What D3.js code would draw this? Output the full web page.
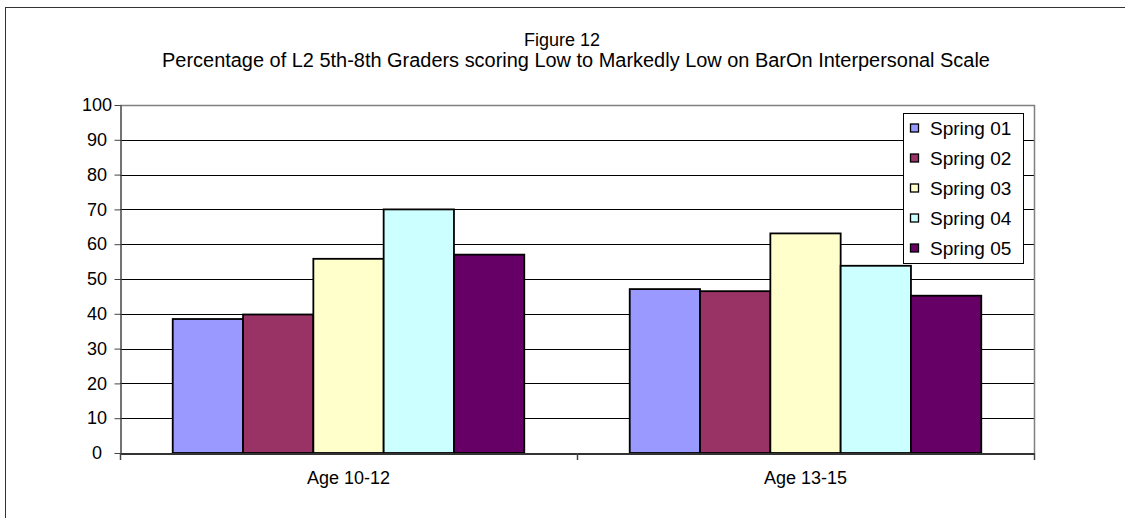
<!DOCTYPE html>
<html>
<head>
<meta charset="utf-8">
<script src="https://cdn.jsdelivr.net/npm/d3@7"></script>
<style>
  html, body { margin: 0; padding: 0; background: #fff; }
  svg { display: block; }
  text { font-family: Arial, "Liberation Sans", sans-serif; fill: #000; }
</style>
</head>
<body>
<svg id="chart" width="1125" height="518"></svg>
<script>
const categories = ["Age 10-12", "Age 13-15"];
const seriesNames = ["Spring 01", "Spring 02", "Spring 03", "Spring 04", "Spring 05"];
const seriesColors = ["#9999FF", "#993366", "#FFFFCC", "#CCFFFF", "#660066"];
const spring01 = [38.5, 47.1];
const spring02 = [39.8, 46.5];
const spring03 = [55.8, 63.1];
const spring04 = [70.0, 53.8];
const spring05 = [57.0, 45.2];
const yTicks = [0, 10, 20, 30, 40, 50, 60, 70, 80, 90, 100];
const titleLine1 = "Figure 12";
const titleLine2 = "Percentage of L2 5th-8th Graders scoring Low to Markedly Low on BarOn Interpersonal Scale";

const seriesValues = [spring01, spring02, spring03, spring04, spring05];

const svg = d3.select("#chart");
const plot = { left: 120, right: 1034, top: 105, bottom: 453 };

// outer chart border
svg.append("rect")
  .attr("x", 5.5).attr("y", 7.5)
  .attr("width", 1140).attr("height", 540)
  .attr("fill", "#fff").attr("stroke", "#333").attr("stroke-width", 1);

const y = d3.scaleLinear().domain([0, 100]).range([plot.bottom, plot.top]);
const x0 = d3.scaleBand().domain(categories).range([plot.left, plot.right]).padding(0);
const x1 = d3.scaleBand().domain(seriesNames).range([0, x0.bandwidth()])
  .paddingInner(0).paddingOuter(0.75);

// gridlines
svg.append("g").selectAll("line")
  .data(yTicks.filter(d => d > 0 && d < 100))
  .join("line")
  .attr("x1", plot.left).attr("x2", plot.right)
  .attr("y1", d => Math.round(y(d)) + 0.5).attr("y2", d => Math.round(y(d)) + 0.5)
  .attr("stroke", "#000").attr("stroke-width", 1);

// plot border top and right (gray)
svg.append("path")
  .attr("d", `M${plot.left},${Math.round(y(100)) + 0.5}H${plot.right + 0.5}V${plot.bottom}`)
  .attr("fill", "none").attr("stroke", "#808080").attr("stroke-width", 1.5);

// bars
const groups = svg.append("g").selectAll("g")
  .data(categories)
  .join("g")
  .attr("transform", d => `translate(${x0(d)},0)`);

groups.selectAll("rect")
  .data((c, ci) => seriesNames.map((s, si) => ({ s, si, v: seriesValues[si][ci] })))
  .join("rect")
  .attr("x", d => x1(d.s))
  .attr("width", x1.bandwidth())
  .attr("y", d => y(d.v))
  .attr("height", d => y(0) - y(d.v))
  .attr("fill", d => seriesColors[d.si])
  .attr("stroke", "#000").attr("stroke-width", 1.8);

// y axis
const yAxis = d3.axisLeft(y).tickValues(yTicks).tickSize(6).tickPadding(11).tickSizeOuter(0);
const yg = svg.append("g").attr("transform", `translate(${plot.left + 0.5},0)`).call(yAxis);
yg.select(".domain").attr("stroke", "#444").attr("stroke-width", 1.5);
yg.selectAll(".tick line").attr("stroke", "#444");
yg.selectAll(".tick text").attr("font-size", 18).attr("fill", "#000")
  .attr("text-anchor", "middle").attr("x", -23.5)
  .style("font-family", 'Arial, "Liberation Sans", sans-serif');

// x axis
const xAxis = d3.axisBottom(x0).tickSize(0).tickPadding(18).tickSizeOuter(0);
const xg = svg.append("g").attr("transform", `translate(0,${plot.bottom + 0.5})`).call(xAxis);
xg.select(".domain").attr("stroke", "#333").attr("stroke-width", 2);
xg.selectAll(".tick text").attr("font-size", 18).attr("fill", "#000")
  .style("font-family", 'Arial, "Liberation Sans", sans-serif');
// category boundary ticks
const bounds = categories.map(c => x0(c)).concat([x0(categories[categories.length - 1]) + x0.bandwidth()]);
svg.append("g").selectAll("line").data(bounds).join("line")
  .attr("x1", d => Math.round(d) + 0.5).attr("x2", d => Math.round(d) + 0.5)
  .attr("y1", plot.bottom).attr("y2", plot.bottom + 7)
  .attr("stroke", "#444").attr("stroke-width", 1.5);

// titles
svg.append("text").attr("x", 562).attr("y", 46).attr("text-anchor", "middle")
  .attr("font-size", 18).text(titleLine1);
const t2 = svg.append("text").attr("x", 576).attr("y", 67).attr("text-anchor", "middle")
  .attr("font-size", 17).text(titleLine2);
const w2 = t2.node().getComputedTextLength();
t2.attr("font-size", 17 * 828 / w2);

// legend
const legend = svg.append("g");
legend.append("rect").attr("x", 903.5).attr("y", 113.5).attr("width", 120).attr("height", 150)
  .attr("fill", "#fff").attr("stroke", "#000").attr("stroke-width", 1);
const rowY = d3.scalePoint().domain(seriesNames).range([128, 248]);
const items = legend.selectAll("g.item").data(seriesNames).join("g").attr("class", "item")
  .attr("transform", d => `translate(0,${rowY(d)})`);
items.append("rect").attr("x", 910.5).attr("y", -4).attr("width", 8).attr("height", 8)
  .attr("fill", (d, i) => seriesColors[i]).attr("stroke", "#000").attr("stroke-width", 1.3);
items.append("text").attr("x", 930).attr("y", 0).attr("dy", "0.36em")
  .attr("font-size", 19).text(d => d);
</script>
</body>
</html>
